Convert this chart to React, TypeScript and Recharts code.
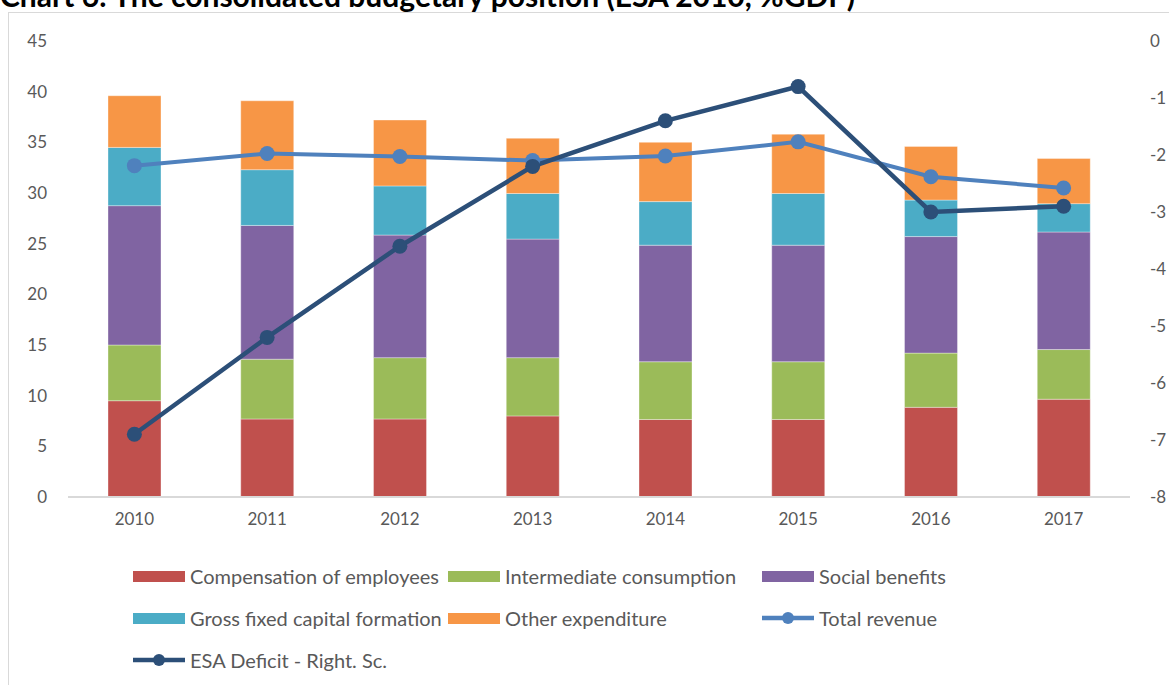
import { ComposedChart, Bar, Line, XAxis, YAxis } from "recharts";

const years = ["2010", "2011", "2012", "2013", "2014", "2015", "2016", "2017"];
const compensation = [9.5, 7.7, 7.7, 8.0, 7.65, 7.65, 8.85, 9.65];
const intermediate = [5.5, 5.9, 6.05, 5.75, 5.7, 5.7, 5.35, 4.9];
const socialBenefits = [13.75, 13.2, 12.1, 11.7, 11.5, 11.5, 11.5, 11.6];
const gfcf = [5.75, 5.5, 4.85, 4.5, 4.3, 5.1, 3.6, 2.8];
const otherExp = [5.1, 6.8, 6.5, 5.45, 5.85, 5.85, 5.3, 4.45];
const totalRevenue = [32.7, 33.9, 33.6, 33.2, 33.65, 35.05, 31.6, 30.5];
const esaDeficit = [-6.9, -5.2, -3.6, -2.2, -1.4, -0.8, -3.0, -2.9];

const leftTicks = [0, 5, 10, 15, 20, 25, 30, 35, 40, 45];
const rightTicks = [0, -1, -2, -3, -4, -5, -6, -7, -8];

const data = years.map((y, i) => ({
  year: y,
  comp: compensation[i],
  inter: intermediate[i],
  social: socialBenefits[i],
  gfcf: gfcf[i],
  other: otherExp[i],
  revenue: totalRevenue[i],
  deficit: esaDeficit[i],
}));

const FONT = "Lato, 'Open Sans', sans-serif";
const TEXT = "#595959";
const tick = { fontSize: 17, fill: TEXT, fontFamily: FONT };

const legendItems = [
  { label: "Compensation of employees", color: "#C0504D", kind: "box", col: 0, row: 0 },
  { label: "Intermediate consumption", color: "#9BBB59", kind: "box", col: 1, row: 0 },
  { label: "Social benefits", color: "#8064A2", kind: "box", col: 2, row: 0 },
  { label: "Gross fixed capital formation", color: "#4BACC6", kind: "box", col: 0, row: 1 },
  { label: "Other expenditure", color: "#F79646", kind: "box", col: 1, row: 1 },
  { label: "Total revenue", color: "#4F81BD", kind: "line", col: 2, row: 1 },
  { label: "ESA Deficit - Right. Sc.", color: "#2C4F78", kind: "line", col: 0, row: 2 },
];
const colX = [133, 448, 762];
const rowY = [576, 618, 660];

export default function App() {
  const barStroke = { stroke: "#ffffff", strokeWidth: 0.6, strokeOpacity: 0.6 };
  return (
    <div style={{ position: "absolute", left: 0, top: 0, width: 1169, height: 685, overflow: "hidden", background: "#fff", fontFamily: FONT }}>
      <div
        style={{
          position: "absolute",
          left: 0,
          top: -20,
          fontSize: 30,
          fontWeight: 700,
          color: "#000",
          whiteSpace: "nowrap",
          lineHeight: "30px",
        }}
      >
        Chart 6: The consolidated budgetary position (ESA 2010, %GDP)
      </div>
      <div
        style={{
          position: "absolute",
          left: 8,
          top: 12,
          width: 1200,
          height: 720,
          border: "1px solid #d9d9d9",
          boxSizing: "border-box",
        }}
      />
      <div style={{ position: "absolute", left: 0, top: 0 }}>
        <ComposedChart width={1169} height={530} data={data} margin={{ top: 41, right: 0, bottom: 3, left: 0 }}>
          <XAxis
            dataKey="year"
            tick={tick}
            tickSize={0}
            tickMargin={16}
            axisLine={{ stroke: "#d9d9d9", strokeWidth: 2 }}
            height={30}
          />
          <YAxis
            yAxisId="left"
            domain={[0, 45]}
            ticks={leftTicks}
            tick={tick}
            tickSize={0}
            tickMargin={21}
            axisLine={false}
            width={68}
            interval={0}
          />
          <YAxis
            yAxisId="right"
            orientation="right"
            domain={[-8, 0]}
            ticks={rightTicks}
            tick={{ ...tick, textAnchor: "start" }}
            tickSize={0}
            tickMargin={20}
            axisLine={false}
            width={39}
            interval={0}
          />
          <Bar yAxisId="left" dataKey="comp" stackId="a" fill="#C0504D" barSize={53} {...barStroke} isAnimationActive={false} />
          <Bar yAxisId="left" dataKey="inter" stackId="a" fill="#9BBB59" barSize={53} {...barStroke} isAnimationActive={false} />
          <Bar yAxisId="left" dataKey="social" stackId="a" fill="#8064A2" barSize={53} {...barStroke} isAnimationActive={false} />
          <Bar yAxisId="left" dataKey="gfcf" stackId="a" fill="#4BACC6" barSize={53} {...barStroke} isAnimationActive={false} />
          <Bar yAxisId="left" dataKey="other" stackId="a" fill="#F79646" barSize={53} {...barStroke} isAnimationActive={false} />
          <Line
            yAxisId="left"
            dataKey="revenue"
            stroke="#4F81BD"
            strokeWidth={4}
            dot={{ r: 7.5, fill: "#4F81BD", stroke: "#4F81BD", strokeWidth: 0 }}
            isAnimationActive={false}
          />
          <Line
            yAxisId="right"
            dataKey="deficit"
            stroke="#2C4F78"
            strokeWidth={4.5}
            dot={{ r: 7.5, fill: "#2C4F78", stroke: "#2C4F78", strokeWidth: 0 }}
            isAnimationActive={false}
          />
        </ComposedChart>
      </div>
      {legendItems.map((it) => (
        <div
          key={it.label}
          style={{
            position: "absolute",
            left: colX[it.col],
            top: rowY[it.row] - 13,
            height: 26,
            display: "flex",
            alignItems: "center",
            whiteSpace: "nowrap",
            fontSize: 20,
            color: TEXT,
          }}
        >
          {it.kind === "box" ? (
            <span style={{ display: "inline-block", width: 52, height: 11, background: it.color }} />
          ) : (
            <svg width={52} height={16} style={{ display: "block" }}>
              <line x1={0} y1={8} x2={52} y2={8} stroke={it.color} strokeWidth={4.5} strokeLinecap="round" />
              <circle cx={26} cy={8} r={6} fill={it.color} />
            </svg>
          )}
          <span style={{ marginLeft: 5 }}>{it.label}</span>
        </div>
      ))}
    </div>
  );
}
